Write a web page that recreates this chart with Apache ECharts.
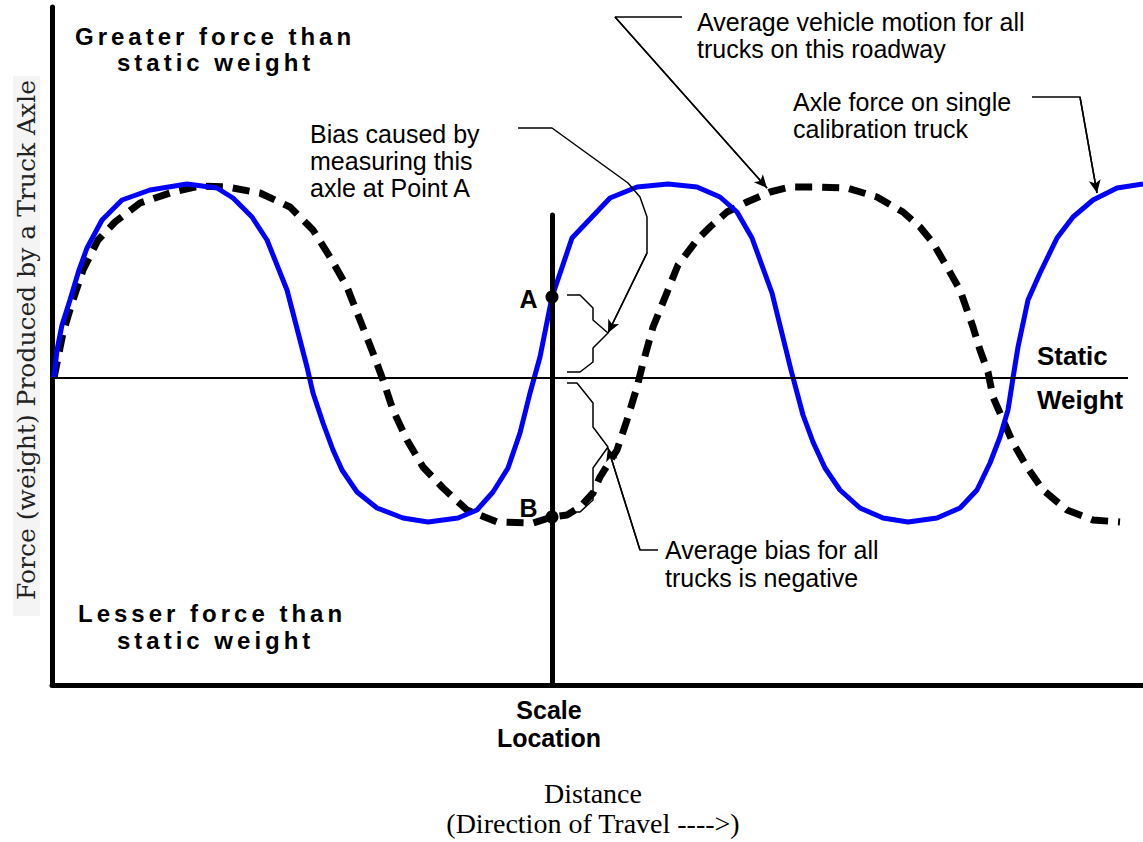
<!DOCTYPE html>
<html>
<head>
<meta charset="utf-8">
<script src="https://cdn.jsdelivr.net/npm/echarts@6/dist/echarts.min.js"></script>
<style>html,body{margin:0;padding:0;background:#fff;}#c{width:1143px;height:842px;}</style>
</head>
<body>
<div id="c"></div>
<script>
// Distance (x) vs force relative to static weight (y), schematic units
const truckForce = [[2,0],[5,28],[10,53],[18,78],[27,108],[35,130],[50,158],[70,178],[98,188],[135,194],[165,190],[181,180],[200,161],[215,138],[235,88],[255,11],[261,-15],[271,-45],[281,-72],[290,-92],[305,-114],[325,-130],[351,-140],[376,-144],[406,-140],[425,-132],[441,-114],[456,-90],[468,-55],[478,-15],[488,21],[500,81],[520,140],[558,180],[585,191],[616,194],[645,191],[668,181],[685,166],[700,140],[720,85],[739,8],[751,-37],[761,-64],[773,-90],[788,-112],[808,-130],[831,-140],[856,-144],[885,-140],[908,-130],[925,-112],[938,-85],[948,-59],[956,-32],[961,0],[966,31],[976,78],[988,105],[1005,140],[1021,161],[1041,178],[1065,190],[1091,194]];
const avgMotion = [[2,0],[11,45],[20,75],[31,108],[46,138],[63,156],[88,175],[121,186],[148,192],[175,191],[208,185],[238,171],[261,148],[278,121],[295,91],[308,58],[321,25],[331,-2],[341,-32],[355,-62],[371,-89],[391,-110],[415,-132],[445,-144],[481,-145],[500,-139],[515,-137],[528,-129],[541,-115],[548,-99],[565,-72],[575,-42],[585,-9],[591,15],[601,51],[616,88],[626,113],[645,138],[658,151],[675,166],[695,176],[718,186],[738,191],[765,191],[795,190],[825,181],[851,166],[868,151],[881,135],[895,111],[908,88],[921,51],[928,28],[936,6],[941,-19],[951,-42],[961,-65],[975,-89],[991,-112],[1015,-132],[1041,-142],[1068,-144]];
const scaleLocation = 500;
const staticWeight = 0;
const staticLineEnd = 1076;
const scaleLineTop = 163;
const pointA = [500, 81];
const pointB = [500, -139];
const pointLabels = ['A', 'B'];
const xRange = [0, 1091];
const yRange = [-307, 371];
// annotation leader / brace polylines (same units)
const leaderAvgMotion = [[630,361],[563,361],[715,190]];
const leaderAxleForce = [[980,281],[1028,281],[1045,185]];
const leaderBias = [[466,250],[500,250],[576,195],[588,181],[595,161],[595,125],[556,45]];
const leaderAvgBias = [[606,-172],[588,-172],[556,-70]];
const braceA = [[515,83],[528,83],[541,70],[541,58],[556,45],[541,30],[541,16],[528,6],[515,6]];
const braceB = [[515,-5],[525,-5],[541,-25],[541,-49],[556,-69],[541,-90],[541,-122],[528,-134],[515,-134]];

const SPACED = ['Greater force than','static weight','Lesser force than'];

function polySeries(pts) {
  return { type:'line', data: pts, showSymbol:false, symbol:'none', silent:true, clip:false, z:4,
    lineStyle:{ color:'#000', width:1.5 }, animation:false };
}
function arrowSeries(pts) {
  const a = pts[pts.length-2], b = pts[pts.length-1];
  const s = polySeries(pts);
  s.markLine = { silent:true, animation:false, symbol:['none','arrow'], symbolSize:[9,13],
    lineStyle:{ color:'#000', width:1.5, type:'solid' }, label:{show:false},
    data:[[{coord:a},{coord:b}]] };
  return s;
}

const SANS = '"Liberation Sans", Arial, sans-serif';
const chart = echarts.init(document.getElementById('c'), null, { renderer:'svg' });
chart.setOption({
  animation:false,
  backgroundColor:'#fff',
  grid:{ left:52, right:0, top:7, bottom:157, containLabel:false },
  xAxis:{ type:'value', min:xRange[0], max:xRange[1], axisLine:{ show:true, onZero:false, lineStyle:{ color:'#000', width:5, cap:'round' } },
    axisTick:{show:false}, axisLabel:{show:false}, splitLine:{show:false} },
  yAxis:{ type:'value', min:yRange[0], max:yRange[1], axisLine:{ show:true, onZero:false, lineStyle:{ color:'#000', width:5, cap:'round' } },
    axisTick:{show:false}, axisLabel:{show:false}, splitLine:{show:false},
    name:'Force (weight) Produced by a Truck Axle', nameLocation:'middle', nameRotate:90, nameGap:12,
    nameTextStyle:{ fontFamily:'"DejaVu Serif", serif', fontSize:25, color:'#222', backgroundColor:'#f4f4f4', padding:[1,4,1,16] } },
  series:[
    { type:'line', name:'Average vehicle motion', data: avgMotion, showSymbol:false, symbol:'none', clip:false, z:3,
      lineStyle:{ color:'#000', width:7, type:[17,10], cap:'butt', join:'round' },
      markLine:{ silent:true, symbol:'none', label:{show:false}, animation:false,
        data:[
          [{coord:[0,staticWeight], lineStyle:{color:'#000', width:2, type:'solid'}},{coord:[staticLineEnd,staticWeight]}],
          [{coord:[scaleLocation,yRange[0]], lineStyle:{color:'#000', width:5, type:'solid', cap:'round'}},{coord:[scaleLocation,scaleLineTop]}]
        ] } },
    { type:'line', name:'Axle force on single calibration truck', data: truckForce, showSymbol:false, symbol:'none', clip:false, z:3,
      lineStyle:{ color:'#0000ff', width:5, join:'round' } },
    { type:'scatter', data:[pointA, pointB], symbolSize:13, itemStyle:{ color:'#000', opacity:1 }, z:6,
      emphasis:{disabled:true},
      label:{ show:true, position:'left', distance:8, fontFamily:SANS, fontWeight:'bold', fontSize:25, color:'#000',
        formatter: p => pointLabels[p.dataIndex] },
      labelLayout: p => p.dataIndex === 1 ? { dy:-9 } : { dy:2 } },
    arrowSeries(leaderAvgMotion),
    arrowSeries(leaderAxleForce),
    arrowSeries(leaderBias),
    arrowSeries(leaderAvgBias),
    polySeries(braceA),
    polySeries(braceB)
  ],
  graphic:[
    { type:'text', left:75, top:24, style:{ text:'Greater force than', font:'bold 24px '+SANS, fill:'#000' } },
    { type:'text', left:117, top:50, style:{ text:'static weight', font:'bold 24px '+SANS, fill:'#000' } },
    { type:'text', left:78, top:601, style:{ text:'Lesser force than', font:'bold 24px '+SANS, fill:'#000' } },
    { type:'text', left:117, top:628, style:{ text:'static weight', font:'bold 24px '+SANS, fill:'#000' } },
    { type:'text', left:310, top:120, style:{ text:'Bias caused by\nmeasuring this\naxle at Point A', font:'25px '+SANS, lineHeight:27, fill:'#000' } },
    { type:'text', left:697, top:8, style:{ text:'Average vehicle motion for all\ntrucks on this roadway', font:'25px '+SANS, lineHeight:27, fill:'#000' } },
    { type:'text', left:793, top:88, style:{ text:'Axle force on single\ncalibration truck', font:'25px '+SANS, lineHeight:27, fill:'#000' } },
    { type:'text', left:665, top:536, style:{ text:'Average bias for all\ntrucks is negative', font:'25px '+SANS, lineHeight:28, fill:'#000' } },
    { type:'text', left:1037, top:343, style:{ text:'Static', font:'bold 26px '+SANS, fill:'#000' } },
    { type:'text', left:1037, top:387, style:{ text:'Weight', font:'bold 26px '+SANS, fill:'#000' } },
    { type:'text', x:549, y:724, style:{ text:'Scale\nLocation', font:'bold 25px '+SANS, lineHeight:28, fill:'#000', textAlign:'center', textVerticalAlign:'middle' } },
    { type:'text', x:593, y:808, style:{ text:'Distance\n(Direction of Travel ---->)', font:'28px "Liberation Serif", "Times New Roman", serif', lineHeight:30, fill:'#000', textAlign:'center', textVerticalAlign:'middle' } }
  ]
});
function spaceText() {
  document.querySelectorAll('#c svg text').forEach(t => {
    if (SPACED.indexOf(t.textContent) >= 0) t.setAttribute('letter-spacing', '4');
  });
}
spaceText();
chart.on('finished', spaceText);
</script>
</body>
</html>
